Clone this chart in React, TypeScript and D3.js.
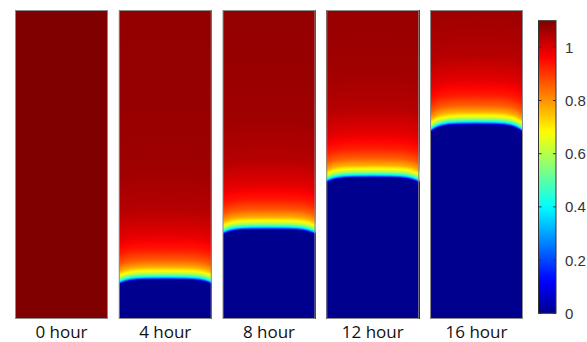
import React from 'react';
import * as d3 from 'd3';

// Snapshots of the concentration field
const hours = ['0 hour', '4 hour', '8 hour', '12 hour', '16 hour'];
// Height of the front at the column centre (fraction of column height); null = no front yet
const frontHeight: (number | null)[] = [null, 0.126, 0.288, 0.456, 0.628];
// How far the front sinks at the side walls (fraction of column height)
const wallDroop = [0, 0.016, 0.016, 0.017, 0.026];
// Front shape across the column: |2u-1| -> share of the wall droop
const droopPos = [0, 0.4, 0.6, 0.75, 0.85, 0.93, 1];
const droopShare = [0, 0.03, 0.1, 0.25, 0.45, 0.7, 1];
// Concentration profile above the front: distance (fraction of height) -> value
const profileDist = [0, 0.003, 0.01, 0.02, 0.03, 0.042, 0.065, 0.097, 0.146, 0.227, 0.356, 0.58, 1];
const profileValue = [0, 0.12, 0.38, 0.58, 0.68, 0.77, 0.86, 0.93, 0.99, 1.04, 1.065, 1.075, 1.08];
// Initial uniform value
const initialValue = 1.1;

// Colour scale (jet) and colorbar ticks
const colorMax = 1.1;
const jetPos = [0, 0.111, 0.365, 0.619, 0.873, 1];
const jetColors = ['#00008f', '#0000ff', '#00ffff', '#ffff00', '#ff0000', '#800000'];
const colorTicks = [0, 0.2, 0.4, 0.6, 0.8, 1];

const W = 587;
const H = 342;

export default function App() {
  const x = d3
    .scaleBand<string>()
    .domain(hours)
    .range([15, 523])
    .paddingInner(0.104)
    .paddingOuter(0);
  const y = d3.scaleLinear().domain([0, 1]).range([319, 10]);
  const jet = d3
    .scaleLinear<string>()
    .domain(jetPos.map((t) => t * colorMax))
    .range(jetColors)
    .interpolate(d3.interpolateRgb)
    .clamp(true);
  const profile = d3.scaleLinear().domain(profileDist).range(profileValue).clamp(true);
  const droop = d3.scaleLinear().domain(droopPos).range(droopShare).clamp(true);

  const pxNorm = 1 / (y(0) - y(1));
  const steps = [
    ...d3.range(0, 30, 1),
    ...d3.range(30, 100, 3),
    ...d3.range(100, 330, 12),
  ].map((p) => p * pxNorm);

  const bw = x.bandwidth();
  const nCols = Math.round(bw);
  const colW = bw / nCols;

  const defs: React.ReactNode[] = [];
  const cells: React.ReactNode[] = [];

  hours.forEach((h, i) => {
    const x0 = x(h)!;
    const f = frontHeight[i];
    if (f === null) {
      cells.push(
        <rect key={`u${i}`} x={x0} y={y(1)} width={bw} height={y(0) - y(1)} fill={jet(initialValue)} />
      );
      return;
    }
    for (let c = 0; c < nCols; c++) {
      const u = (c + 0.5) / nCols;
      const fc = f - wallDroop[i] * droop(Math.abs(2 * u - 1));
      const id = `g${i}_${c}`;
      const stops: React.ReactNode[] = [];
      stops.push(<stop key="a" offset={0} stopColor={jet(0)} />);
      stops.push(<stop key="b" offset={fc} stopColor={jet(0)} />);
      steps.forEach((s, k) => {
        const o = fc + s;
        if (o <= 1) stops.push(<stop key={k} offset={o} stopColor={jet(profile(s))} />);
      });
      stops.push(<stop key="z" offset={1} stopColor={jet(profile(1 - fc))} />);
      defs.push(
        <linearGradient key={id} id={id} gradientUnits="userSpaceOnUse" x1={0} x2={0} y1={y(0)} y2={y(1)}>
          {stops}
        </linearGradient>
      );
      cells.push(
        <rect
          key={id}
          x={x0 + c * colW}
          y={y(1)}
          width={colW + 0.4}
          height={y(0) - y(1)}
          fill={`url(#${id})`}
        />
      );
    }
  });

  // Colorbar
  const cb = d3.scaleLinear().domain([0, colorMax]).range([313.3, 20.7]);
  const cbX0 = 538.5;
  const cbX1 = 556;
  const cbStops = d3.range(0, colorMax + 1e-6, colorMax / 40);

  return (
    <svg
      width={W}
      height={H}
      style={{ position: 'absolute', left: 0, top: 0, background: '#fff' }}
    >
      <defs>
        {defs}
        <linearGradient id="cbar" gradientUnits="userSpaceOnUse" x1={0} x2={0} y1={cb(0)} y2={cb(colorMax)}>
          {cbStops.map((v, k) => (
            <stop key={k} offset={v / colorMax} stopColor={jet(v)} />
          ))}
        </linearGradient>
      </defs>
      <g shapeRendering="crispEdges">{cells}</g>
      {hours.map((h) => (
        <rect
          key={`b${h}`}
          x={x(h)! + 0.5}
          y={y(1) + 0.5}
          width={bw - 1}
          height={y(0) - y(1) - 1}
          fill="none"
          stroke="#8c8c8c"
          strokeWidth={1}
        />
      ))}
      {hours.map((h) => (
        <text
          key={`t${h}`}
          x={x(h)! + bw / 2}
          y={337.5}
          textAnchor="middle"
          fontFamily="'Open Sans', sans-serif"
          fontSize={17}
          fill="#111"
        >
          {h}
        </text>
      ))}
      <rect
        x={cbX0}
        y={cb(colorMax)}
        width={cbX1 - cbX0}
        height={cb(0) - cb(colorMax)}
        fill="url(#cbar)"
        stroke="#333"
        strokeWidth={1}
      />
      {colorTicks.map((t) => (
        <g key={`ct${t}`}>
          <line x1={cbX0} x2={cbX0 + 3} y1={cb(t)} y2={cb(t)} stroke="#333" strokeWidth={1} />
          <line x1={cbX1 - 3} x2={cbX1} y1={cb(t)} y2={cb(t)} stroke="#333" strokeWidth={1} />
          <text
            x={565}
            y={cb(t)}
            dy="0.36em"
            fontFamily="'Liberation Sans', Arial, sans-serif"
            fontSize={15}
            fill="#333"
          >
            {d3.format('~g')(t)}
          </text>
        </g>
      ))}
    </svg>
  );
}
